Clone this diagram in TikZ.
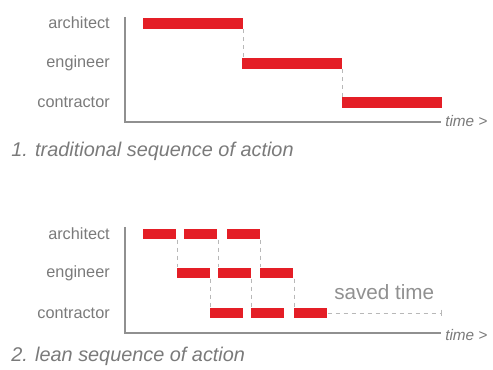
\documentclass[tikz,border=0pt]{standalone}
\usepackage{fontspec}
\setmainfont{Liberation Sans}
\usetikzlibrary{arrows.meta}
\definecolor{barred}{HTML}{E41E26}
\definecolor{axisgray}{HTML}{909090}
\definecolor{labelgray}{HTML}{7A7A7A}
\definecolor{dashgray}{HTML}{B8B8B8}
\definecolor{savedgray}{HTML}{909090}
\tikzset{
  bar/.style={fill=barred, draw=none, inner sep=0pt, minimum height=8pt, anchor=west},
  longbar/.style={bar, minimum width=75pt},
  shortbar/.style={bar, minimum width=24.75pt},
  axisline/.style={draw=axisgray, line width=1.1pt},
  rolelabel/.style={text=labelgray, font=\fontsize{12.2}{14}\selectfont, anchor=east, inner sep=0pt},
  caption/.style={text=labelgray, font=\itshape\fontsize{14.9}{17}\selectfont, anchor=west, inner sep=0pt},
  timelabel/.style={text=labelgray, font=\itshape\fontsize{11.5}{13}\selectfont, anchor=west, inner sep=0pt},
  seqdash/.style={draw=dashgray, line width=0.5pt, dash pattern=on 3pt off 3pt},
}
\begin{document}
\begin{tikzpicture}[x=0.75pt, y=-0.75pt]
\useasboundingbox (0,0) rectangle (493,370);
% ---------- top chart ----------
\coordinate (t1top) at (125,17);
\coordinate (t1orig) at (125,122);
\coordinate (t1end) at (441,122);
\draw[axisline] (t1top) -- (t1orig) -- (t1end);
\node[timelabel] (t1time) at (445,121) {time >};
\node[rolelabel] (t1arch) at (110,23) {architect};
\node[rolelabel] (t1eng) at (110,63) {engineer};
\node[rolelabel] (t1con) at (110,102) {contractor};
\node[longbar] (ta) at (143,23.5) {};
\node[longbar] (te) at (242,63.5) {};
\node[longbar] (tc) at (342,102.5) {};
\draw[seqdash] (ta.south east) -- (ta.south east |- te.north);
\draw[seqdash] (te.south east) -- (te.south east |- tc.north);
\node[caption] (cap1) at (11,151) {1. traditional sequence of action};
% ---------- bottom chart ----------
\coordinate (b1top) at (125,227);
\coordinate (b1orig) at (125,333);
\coordinate (b1end) at (441,333);
\draw[axisline] (b1top) -- (b1orig) -- (b1end);
\node[timelabel] (b1time) at (445,335) {time >};
\node[rolelabel] (b1arch) at (110,234) {architect};
\node[rolelabel] (b1eng) at (110,273) {engineer};
\node[rolelabel] (b1con) at (110,313) {contractor};
\node[shortbar] (a1) at (143,234) {};
\node[shortbar] (a2) at (184,234) {};
\node[shortbar] (a3) at (227,234) {};
\node[shortbar] (e1) at (177,273) {};
\node[shortbar] (e2) at (218,273) {};
\node[shortbar] (e3) at (260,273) {};
\node[shortbar] (c1) at (210,313) {};
\node[shortbar] (c2) at (251,313) {};
\node[shortbar] (c3) at (294,313) {};
\foreach \i in {1,2,3}{
  \draw[seqdash] (e\i.north west |- a\i.south) -- (e\i.north west);
  \draw[seqdash] (c\i.north west |- e\i.south) -- (c\i.north west);
}
\coordinate (saveend) at (442,313);
\draw[seqdash, -{Bar[width=5pt,line width=0.6pt]}] (c3.east) -- (saveend);
\node[text=savedgray, font=\fontsize{15.5}{18}\selectfont, anchor=west, inner sep=0pt] (saved) at (334,292) {saved time};
\node[caption] (cap2) at (11,356) {2. lean sequence of action};
\end{tikzpicture}
\end{document}
